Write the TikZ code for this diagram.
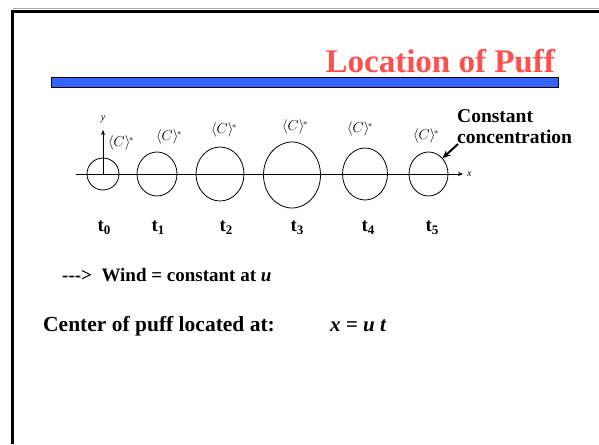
\documentclass[tikz,border=0pt]{standalone}
\usepackage{fontspec}
\setmainfont{Liberation Serif}
\usetikzlibrary{arrows.meta,positioning,shapes.geometric}
\definecolor{puffRed}{RGB}{255,80,80}
\definecolor{puffBlue}{RGB}{51,102,255}
\definecolor{puffShade}{RGB}{170,170,170}
\newcommand{\tlab}[1]{\textbf{t}\raisebox{-0.35ex}{\fontsize{13}{13}\selectfont\textbf{#1}}}
\newcommand{\conc}{$\langle C\rangle^{\!*}$}

\begin{document}
\begin{tikzpicture}[x=1pt,y=-1pt,
      puff/.style={ellipse,draw=black,line width=0.8pt,inner sep=0pt},
      clab/.style={font=\fontsize{13.5}{13.5}\selectfont,inner sep=0pt},
      tname/.style={anchor=base,font=\fontsize{19}{19}\selectfont,inner sep=0pt},
      body/.style={anchor=base west,font=\fontsize{19}{19}\selectfont\bfseries,inner sep=0pt},
      axis/.style={-{Stealth[length=5pt,width=4pt]},line width=0.7pt},
      pointer/.style={-{Stealth[length=8pt,width=7pt]},line width=2pt}
    ]
    \useasboundingbox (0,0) rectangle (599,444);
    % slide frame
    \draw[puffShade,line width=1pt] (13,8.5) -- (599,8.5);
    \draw[line width=3pt] (12.5,444) -- (12.5,11.5) -- (599,11.5);
    % title and bar
    \node[anchor=base east,inner sep=0pt,text=puffRed,font=\fontsize{33}{33}\selectfont\bfseries] (title) at (555,73) {Location of Puff};
    \draw[fill=puffBlue,line width=0.8pt] (51,77) rectangle (558,87);
    % axes
    \coordinate (xs) at (76,174);
    \coordinate (xe) at (463,174);
    \coordinate (ys) at (103,174);
    \coordinate (ye) at (103,130);
    \draw[axis] (xs) -- (xe);
    \draw[axis] (ys) -- (ye);
    \node[font=\fontsize{10}{10}\selectfont\itshape,anchor=west,inner sep=1pt] (xl) at (466,174) {x};
    \node[font=\fontsize{10}{10}\selectfont\itshape,inner sep=0pt] (yl) at (103,119) {y};
    % puffs
    \node[puff,minimum width=32pt,minimum height=32pt] (p0) at (103,174) {};
    \node[puff,minimum width=40pt,minimum height=44pt] (p1) at (157,174) {};
    \node[puff,minimum width=48pt,minimum height=54pt] (p2) at (220,174) {};
    \node[puff,minimum width=57pt,minimum height=66pt] (p3) at (292,175) {};
    \node[puff,minimum width=45pt,minimum height=52pt] (p4) at (365,174) {};
    \node[puff,minimum width=39pt,minimum height=44pt] (p5) at (428.5,174) {};
    % concentration labels
    \node[clab] (c0) at (121,143) {\conc};
    \node[clab] (c1) at (169,137) {\conc};
    \node[clab] (c2) at (224,130) {\conc};
    \node[clab] (c3) at (295,127) {\conc};
    \node[clab] (c4) at (360,129) {\conc};
    \node[clab] (c5) at (426,136) {\conc};
    % times
    \node[tname] (t0) at (104,231) {\tlab{0}};
    \node[tname] (t1) at (158,231) {\tlab{1}};
    \node[tname] (t2) at (226,231) {\tlab{2}};
    \node[tname] (t3) at (297,231) {\tlab{3}};
    \node[tname] (t4) at (368,231) {\tlab{4}};
    \node[tname] (t5) at (432,231) {\tlab{5}};
    % note
    \node[anchor=north west,align=left,inner sep=0pt,font=\fontsize{19.5}{21}\selectfont\bfseries] (note) at (457,109) {Constant\\concentration};
    \coordinate (tip) at (458,144);
    \draw[pointer] (tip) -- (p5.north east);
    % text
    \node[body] (wind) at (62,281) {-{}-{}->\ \ Wind = constant at \textit{u}};
    \node[body,font=\fontsize{21.5}{21.5}\selectfont\bfseries] (centre) at (43,331) {Center of puff located at:};
    \node[body,font=\fontsize{21}{21}\selectfont\bfseries\itshape] (eqn) at (330,331) {x = u t};
  \end{tikzpicture}
\end{document}
